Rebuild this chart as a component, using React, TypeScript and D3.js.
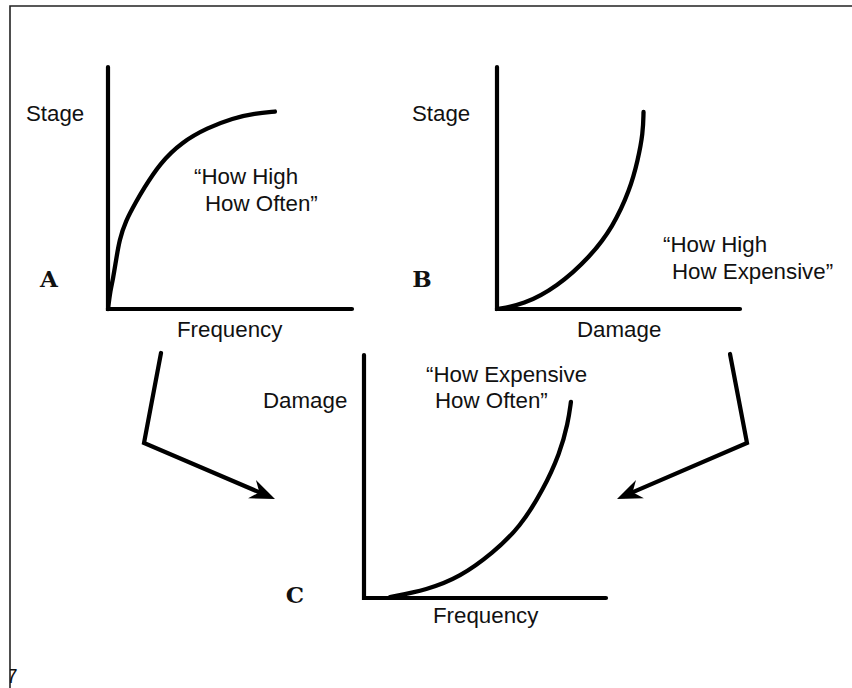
import React, { useEffect } from "react";
import * as d3 from "d3";

// Curve data in normalised panel units (x: 0..1 along horizontal axis, y: 0..1 up the vertical axis)
const curveAx = [0, 0.01, 0.02, 0.033, 0.047, 0.07, 0.119, 0.143, 0.213, 0.303, 0.406, 0.512, 0.602, 0.684];
const curveAy = [0, 0.079, 0.12, 0.202, 0.285, 0.36, 0.45, 0.492, 0.603, 0.69, 0.748, 0.789, 0.808, 0.816];

const curveBx = [0, 0.107, 0.247, 0.383, 0.477, 0.547, 0.58, 0.601, 0.603];
const curveBy = [0, 0.017, 0.091, 0.215, 0.339, 0.492, 0.616, 0.727, 0.814];

const curveCx = [0.107, 0.26, 0.397, 0.533, 0.645, 0.74, 0.81, 0.843, 0.855];
const curveCy = [0.004, 0.033, 0.086, 0.185, 0.292, 0.444, 0.597, 0.72, 0.807];

const panelNames = ["A", "B", "C"];
const yLabels = ["Stage", "Stage", "Damage"];
const xLabels = ["Frequency", "Damage", "Frequency"];
const quoteLines = [
  ["\u201CHow High", "How Often\u201D"],
  ["\u201CHow High", "How Expensive\u201D"],
  ["\u201CHow Expensive", "How Often\u201D"],
];

// Layout (pixels)
const panels = [
  { x0: 108, y0: 309, w: 244, h: 242, name: [49, 287], ylab: [26, 121], xlab: [177, 337], q: [[194, 184], [205, 211]] },
  { x0: 497, y0: 309, w: 243, h: 242, name: [422, 287], ylab: [412, 121], xlab: [577, 337], q: [[663, 252], [672, 279]] },
  { x0: 364, y0: 598, w: 242, h: 243, name: [295, 603], ylab: [263, 408], xlab: [433, 623], q: [[426, 382], [435, 408]] },
];

const arrows = [
  [[161, 353], [144, 443], [275, 499]],
  [[730, 354], [747, 443], [617, 499]],
];

const SANS = "'Liberation Sans', Arial, Helvetica, sans-serif";
const SLAB = "'DejaVu Serif', 'Courier New', serif";
const FS = 22.3;

function arrowHead(from: number[], tip: number[]) {
  const dx = tip[0] - from[0];
  const dy = tip[1] - from[1];
  const L = Math.hypot(dx, dy);
  const ux = dx / L, uy = dy / L;
  const px = -uy, py = ux;
  const len = 25, half = 10, notch = 17;
  const bx = tip[0] - ux * len, by = tip[1] - uy * len;
  const nx = tip[0] - ux * notch, ny = tip[1] - uy * notch;
  return `M${tip[0]},${tip[1]} L${bx + px * half},${by + py * half} L${nx},${ny} L${bx - px * half},${by - py * half} Z`;
}

export default function App() {
  useEffect(() => {
    document.body.style.margin = "0";
    document.body.style.overflow = "hidden";
  }, []);
  const curves = [
    curveAx.map((x, i) => [x, curveAy[i]]),
    curveBx.map((x, i) => [x, curveBy[i]]),
    curveCx.map((x, i) => [x, curveCy[i]]),
  ];
  return (
    <svg width={852} height={688} style={{ position: "absolute", left: 0, top: 0, background: "#fff", display: "block" }}>
      <defs>
        <clipPath id="pageclip">
          <rect x={10} y={6} width={842} height={682} />
        </clipPath>
      </defs>
      {/* page border */}
      <path d="M10,688 L10,6 L852,6" fill="none" stroke="#222" strokeWidth={1.6} />
      <text x={6} y={683} fontFamily={SANS} fontSize={21} fill="#111" clipPath="url(#pageclip)">7</text>

      {panels.map((p, i) => {
        const xs = d3.scaleLinear().domain([0, 1]).range([p.x0, p.x0 + p.w]);
        const ys = d3.scaleLinear().domain([0, 1]).range([p.y0, p.y0 - p.h]);
        const line = d3
          .line<number[]>()
          .x((d) => xs(d[0]))
          .y((d) => ys(d[1]))
          .curve(d3.curveBasis);
        return (
          <g key={i}>
            <path
              d={`M${xs(0)},${ys(1)} L${xs(0)},${ys(0)} L${xs(1)},${ys(0)}`}
              fill="none"
              stroke="#000"
              strokeWidth={4.2}
              strokeLinejoin="miter"
              strokeLinecap="round"
            />
            <path d={line(curves[i]) || ""} fill="none" stroke="#000" strokeWidth={4.3} strokeLinecap="round" />
            <text x={p.ylab[0]} y={p.ylab[1]} fontFamily={SANS} fontSize={FS} fill="#111">{yLabels[i]}</text>
            <text x={p.xlab[0]} y={p.xlab[1]} fontFamily={SANS} fontSize={FS} fill="#111">{xLabels[i]}</text>
            <text x={p.name[0]} y={p.name[1]} fontFamily={SLAB} fontWeight="bold" fontSize={23} textAnchor="middle" fill="#111">{panelNames[i]}</text>
            {quoteLines[i].map((t, j) => (
              <text key={j} x={p.q[j][0]} y={p.q[j][1]} fontFamily={SANS} fontSize={FS} fill="#111">{t}</text>
            ))}
          </g>
        );
      })}

      {arrows.map((a, i) => (
        <g key={i}>
          <path
            d={d3.line()(a.slice(0, 2).concat([[a[2][0] - (a[2][0] - a[1][0]) * 0.1, a[2][1] - (a[2][1] - a[1][1]) * 0.1]]) as [number, number][]) || ""}
            fill="none"
            stroke="#000"
            strokeWidth={4.2}
            strokeLinecap="round"
            strokeLinejoin="miter"
          />
          <path d={arrowHead(a[1], a[2])} fill="#000" />
        </g>
      ))}
    </svg>
  );
}
